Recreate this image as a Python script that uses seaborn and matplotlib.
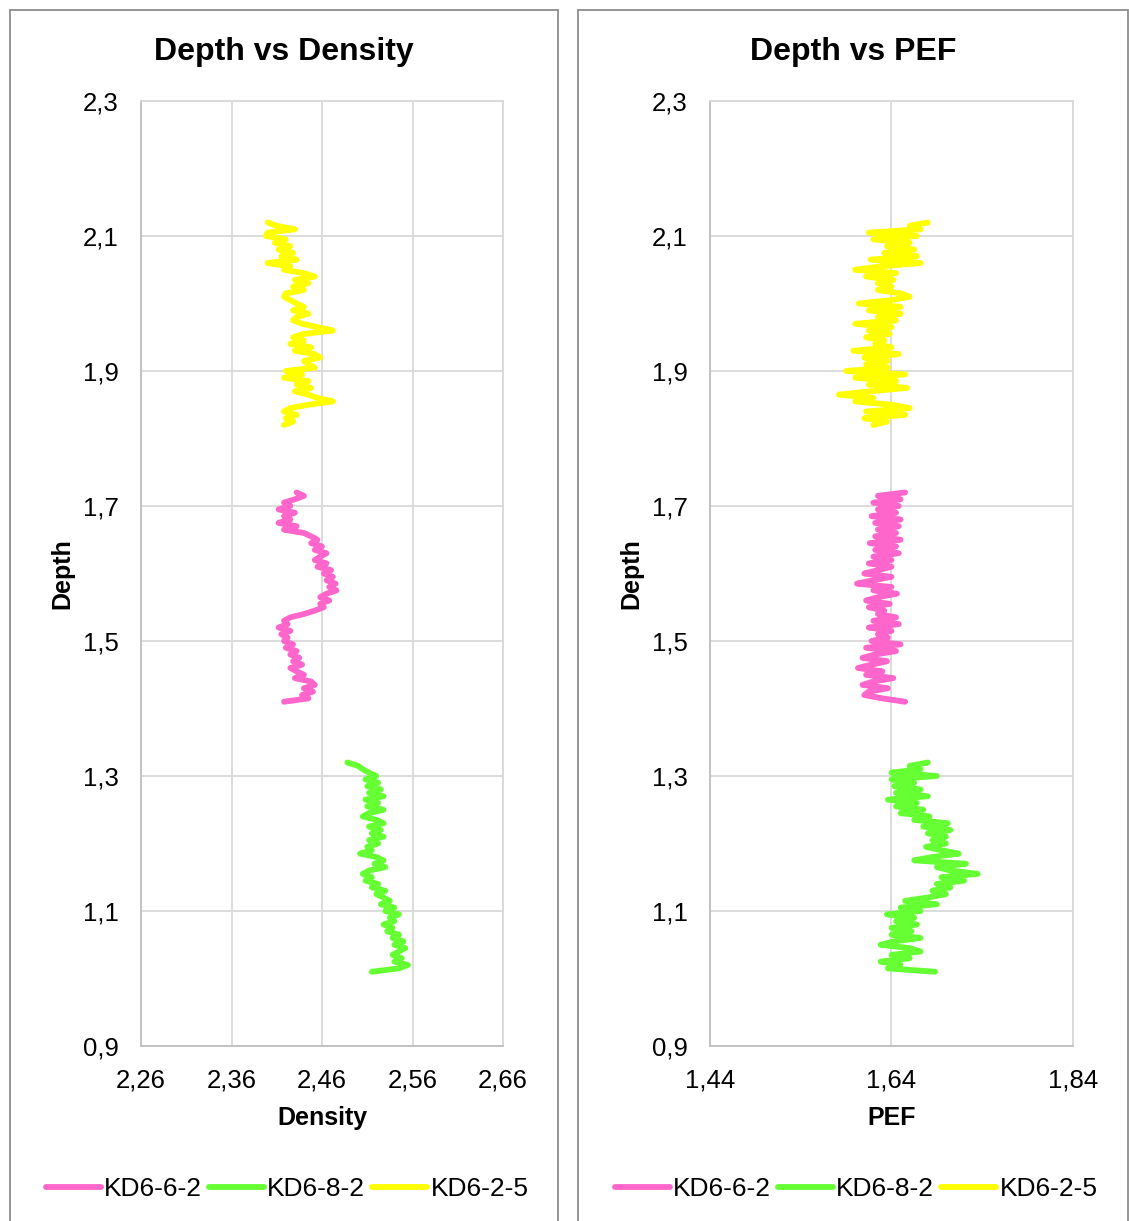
import matplotlib.pyplot as plt
import numpy as np
import pandas as pd
import seaborn as sns
from matplotlib.patches import Rectangle

# ── Data ────────────────────────────────────────────────
samples = ["KD6-6-2", "KD6-8-2", "KD6-2-5"]
colors = ["#FF66CC", "#66FF33", "#FFFF00"]

# depth interval of each core (top, bottom), sampled every 0.005
depth_range_662 = (1.72, 1.41)
depth_range_682 = (1.32, 1.01)
depth_range_225 = (2.12, 1.82)

density_662 = [
    2.432, 2.440, 2.430, 2.418, 2.425, 2.412, 2.430, 2.418, 2.425, 2.412,
    2.432, 2.418, 2.440, 2.448, 2.455, 2.448, 2.460, 2.452, 2.465, 2.458,
    2.452, 2.465, 2.455, 2.470, 2.462, 2.472, 2.465, 2.475, 2.468, 2.476,
    2.465, 2.458, 2.468, 2.458, 2.462, 2.452, 2.440, 2.425, 2.418, 2.422,
    2.412, 2.425, 2.415, 2.422, 2.418, 2.428, 2.420, 2.432, 2.425, 2.435,
    2.428, 2.438, 2.425, 2.432, 2.440, 2.430, 2.448, 2.452, 2.440, 2.450,
    2.438, 2.445, 2.418,
]
pef_662 = [
    1.655, 1.625, 1.650, 1.620, 1.648, 1.625, 1.645, 1.618, 1.650, 1.622,
    1.648, 1.625, 1.645, 1.622, 1.650, 1.616, 1.645, 1.622, 1.648, 1.620,
    1.640, 1.615, 1.640, 1.625, 1.610, 1.640, 1.620, 1.602, 1.640, 1.620,
    1.646, 1.625, 1.612, 1.638, 1.615, 1.632, 1.625, 1.645, 1.620, 1.648,
    1.615, 1.640, 1.625, 1.636, 1.618, 1.650, 1.612, 1.645, 1.622, 1.608,
    1.635, 1.618, 1.603, 1.630, 1.612, 1.642, 1.620, 1.608, 1.636, 1.615,
    1.610, 1.630, 1.655,
]

density_682 = [
    2.488, 2.500, 2.505, 2.512, 2.520, 2.508, 2.522, 2.510, 2.525, 2.512,
    2.528, 2.508, 2.522, 2.510, 2.528, 2.512, 2.505, 2.520, 2.528, 2.512,
    2.525, 2.515, 2.528, 2.512, 2.522, 2.510, 2.515, 2.502, 2.520, 2.528,
    2.518, 2.530, 2.512, 2.505, 2.515, 2.508, 2.522, 2.515, 2.530, 2.520,
    2.528, 2.535, 2.525, 2.540, 2.530, 2.545, 2.535, 2.540, 2.528, 2.538,
    2.532, 2.545, 2.538, 2.550, 2.540, 2.552, 2.545, 2.538, 2.548, 2.540,
    2.555, 2.545, 2.515,
]
pef_682 = [
    1.680, 1.660, 1.672, 1.640, 1.690, 1.640, 1.665, 1.643, 1.672, 1.645,
    1.680, 1.636, 1.668, 1.645, 1.675, 1.650, 1.682, 1.665, 1.702, 1.675,
    1.705, 1.680, 1.700, 1.685, 1.700, 1.678, 1.695, 1.714, 1.685, 1.665,
    1.722, 1.690, 1.705, 1.735, 1.695, 1.720, 1.690, 1.705, 1.685, 1.700,
    1.680, 1.655, 1.690, 1.650, 1.672, 1.635, 1.665, 1.645, 1.668, 1.640,
    1.662, 1.640, 1.672, 1.643, 1.628, 1.660, 1.672, 1.640, 1.660, 1.628,
    1.650, 1.636, 1.688,
]

density_225 = [
    2.400, 2.410, 2.430, 2.400, 2.398, 2.420, 2.408, 2.425, 2.412, 2.428,
    2.415, 2.432, 2.400, 2.425, 2.418, 2.440, 2.452, 2.430, 2.445, 2.428,
    2.440, 2.420, 2.418, 2.425, 2.432, 2.440, 2.428, 2.445, 2.432, 2.428,
    2.438, 2.455, 2.472, 2.440, 2.428, 2.440, 2.425, 2.448, 2.430, 2.452,
    2.458, 2.440, 2.445, 2.452, 2.420, 2.438, 2.418, 2.445, 2.432, 2.448,
    2.430, 2.445, 2.455, 2.472, 2.445, 2.425, 2.418, 2.432, 2.420, 2.428,
    2.418,
]
pef_225 = [
    1.680, 1.660, 1.672, 1.615, 1.668, 1.620, 1.660, 1.635, 1.665, 1.632,
    1.668, 1.617, 1.672, 1.628, 1.600, 1.645, 1.612, 1.642, 1.625, 1.640,
    1.625, 1.650, 1.660, 1.640, 1.604, 1.650, 1.615, 1.650, 1.625, 1.645,
    1.600, 1.640, 1.615, 1.638, 1.612, 1.632, 1.622, 1.640, 1.598, 1.648,
    1.610, 1.636, 1.612, 1.636, 1.590, 1.655, 1.600, 1.645, 1.615, 1.657,
    1.618, 1.582, 1.620, 1.600, 1.640, 1.660, 1.612, 1.655, 1.610, 1.635,
    1.620,
]

depth_ticks = [0.9, 1.1, 1.3, 1.5, 1.7, 1.9, 2.1, 2.3]
density_ticks = [2.26, 2.36, 2.46, 2.56, 2.66]
pef_ticks = [1.44, 1.64, 1.84]

# ── Tabela longa para o seaborn ─────────────────────────
frames = []
for name, (top, bottom), dens, pef in [
    ("KD6-6-2", depth_range_662, density_662, pef_662),
    ("KD6-8-2", depth_range_682, density_682, pef_682),
    ("KD6-2-5", depth_range_225, density_225, pef_225),
]:
    depth = np.round(np.linspace(top, bottom, len(dens)), 3)
    frames.append(
        pd.DataFrame({"sample": name, "depth": depth, "density": dens, "pef": pef})
    )
df = pd.concat(frames, ignore_index=True)

# ── Estilo ──────────────────────────────────────────────
sns.set_theme(style="white")
plt.rcParams["font.family"] = ["Liberation Sans", "DejaVu Sans"]
plt.rcParams["text.color"] = "black"
plt.rcParams["axes.labelcolor"] = "black"

W, H = 1129, 1221
fig = plt.figure(figsize=(W / 100, H / 100), dpi=100)

# moldura de cada painel (estilo Excel)
for x0, x1 in [(10, 558), (578, 1128)]:
    fig.patches.append(
        Rectangle(
            (x0 / W, -0.05), (x1 - x0) / W, 1.05 - 10 / H,
            transform=fig.transFigure, fill=False, edgecolor="#8C8C8C", lw=1.3,
        )
    )


def fmt(values, nd):
    return [f"{v:.{nd}f}".replace(".", ",") for v in values]


def draw_panel(left_px, right_px, xcol, xticks, xlabel, title, panel_px):
    ax = fig.add_axes(
        [left_px / W, 1 - 1046 / H, (right_px - left_px) / W, 945 / H]
    )
    sns.lineplot(
        data=df, x=xcol, y="depth", hue="sample", hue_order=samples,
        palette=colors, sort=False, estimator=None, lw=4.2, ax=ax, legend=False,
    )
    ax.set_xlim(xticks[0], xticks[-1])
    ax.set_ylim(0.9, 2.3)
    ax.set_xticks(xticks)
    ax.set_xticklabels(fmt(xticks, 2))
    ax.set_yticks(depth_ticks)
    ax.set_yticklabels(fmt(depth_ticks, 1))
    ax.grid(True, color="#D9D9D9", lw=1.3)
    for side, sp in ax.spines.items():
        sp.set_color("#BFBFBF" if side in ("left", "bottom") else "#D9D9D9")
        sp.set_linewidth(1.3)
    ax.tick_params(length=0, pad=16, labelsize=18.5, colors="black")
    ax.set_xlabel(xlabel, fontsize=18, fontweight="bold", labelpad=10)
    ax.set_ylabel("Depth", fontsize=18, fontweight="bold", labelpad=6)

    cx = (panel_px[0] + panel_px[1]) / 2 / W
    fig.text(cx, 1 - 52 / H, title, ha="center", va="center",
             fontsize=23, fontweight="bold", color="black")

    handles = [plt.Line2D([], [], color=c, lw=4.2) for c in colors]
    ax.legend(
        handles, samples, loc="center", bbox_to_anchor=(cx + 3 / W, 1 - 1189 / H),
        bbox_transform=fig.transFigure, ncol=3, frameon=False, fontsize=19,
        handlelength=2.1, handletextpad=0.12, columnspacing=0.25,
    )
    return ax


draw_panel(141, 503, "density", density_ticks, "Density", "Depth vs Density", (10, 558))
draw_panel(710, 1073, "pef", pef_ticks, "PEF", "Depth vs PEF", (578, 1128))

plt.savefig("out.png", dpi=100)
